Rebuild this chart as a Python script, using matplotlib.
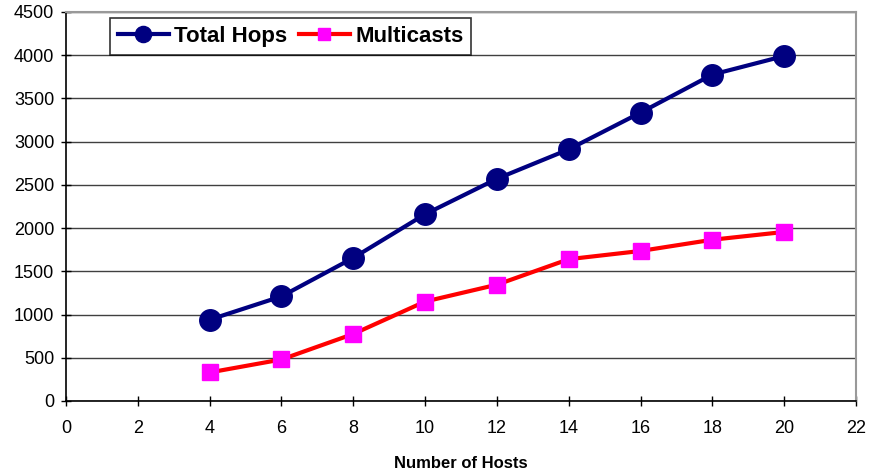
import matplotlib
matplotlib.use("Agg")
import matplotlib.pyplot as plt

hosts = [4, 6, 8, 10, 12, 14, 16, 18, 20]
total_hops = [940, 1210, 1655, 2160, 2570, 2910, 3335, 3775, 3990]
multicasts = [330, 480, 775, 1150, 1345, 1640, 1735, 1865, 1955]
xticks = list(range(0, 23, 2))
yticks = list(range(0, 4501, 500))

plt.rcParams['font.family'] = ['Liberation Sans', 'DejaVu Sans']

fig = plt.figure(figsize=(8.7, 4.76), dpi=100)
ax = fig.add_axes([0.0759, 0.1576, 0.908, 0.8174])

ax.plot(hosts, total_hops, color='#000080', lw=3.0, marker='o', ms=15.5,
        mfc='#000080', mec='#000080', label='Total Hops', zorder=3)
ax.plot(hosts, multicasts, color='#FF0000', lw=3.0, marker='s', ms=11.5,
        mfc='#FF00FF', mec='#FF00FF', label='Multicasts', zorder=3)

ax.set_xlim(0, 22)
ax.set_ylim(0, 4500)
ax.set_xticks(xticks)
ax.set_yticks(yticks)
ax.yaxis.grid(True, color='#404040', lw=1.0)
ax.set_axisbelow(True)
for s in ['top', 'right']:
    ax.spines[s].set_color('#999999')
    ax.spines[s].set_linewidth(1.5)
for s in ['left', 'bottom']:
    ax.spines[s].set_color('black')
    ax.spines[s].set_linewidth(1.2)
ax.tick_params(axis='both', direction='inout', length=7, width=1.0, labelsize=13)
ax.tick_params(axis='x', pad=10)
ax.tick_params(axis='y', pad=5)
ax.set_xlabel('Number of Hosts', fontsize=12, fontweight='bold', labelpad=14)

leg = ax.legend(loc='upper left', bbox_to_anchor=(0.05, 0.995), ncol=2,
                prop={'weight': 'bold', 'size': 16}, frameon=True, fancybox=False,
                edgecolor='black', borderpad=0.35, handlelength=2.3, columnspacing=0.5,
                handletextpad=0.25, markerscale=0.75, borderaxespad=0.2)
leg.get_frame().set_linewidth(1.2)

fig.savefig('out.png', dpi=100)
